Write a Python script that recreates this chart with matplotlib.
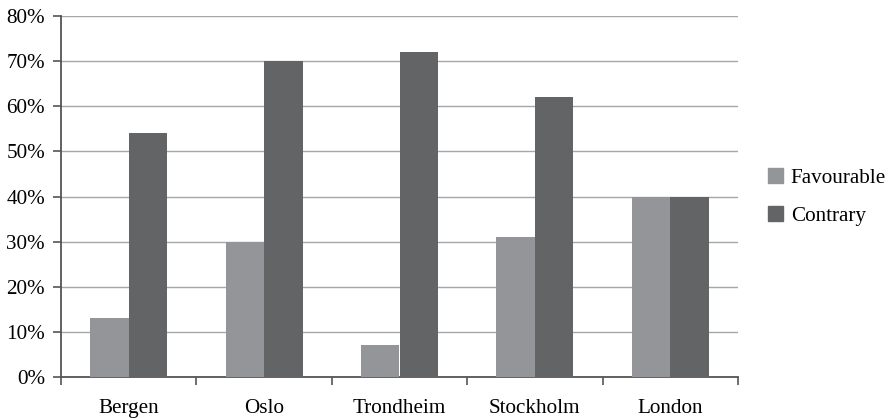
import matplotlib
matplotlib.use("Agg")
from matplotlib import pyplot as plt
from matplotlib.patches import Patch
import numpy as np

cities = ["Bergen", "Oslo", "Trondheim", "Stockholm", "London"]
favourable = [13, 30, 7, 31, 40]
contrary = [54, 70, 72, 62, 40]
yticks = [0, 10, 20, 30, 40, 50, 60, 70, 80]

plt.rcParams['font.family'] = ['Liberation Serif', 'DejaVu Serif']
c_fav = '#939598'
c_con = '#636466'
axis_c = '#555555'
fs = 15.2

fig = plt.figure(figsize=(8.91, 4.18), dpi=100)
ax = fig.add_axes([61/891, 1-377/418, (738-61)/891, (377-16)/418])

x = np.arange(len(cities))
w = 0.285
ax.bar(x - w/2, favourable, w, color=c_fav, zorder=3)
ax.bar(x + w/2, contrary, w, color=c_con, zorder=3)

ax.set_xlim(-0.5, len(cities) - 0.5)
ax.set_ylim(0, 80)
ax.set_yticks(yticks)
ax.set_yticklabels(["%d%%" % v for v in yticks], fontsize=fs)
ax.yaxis.grid(True, color='#a6a6a6', linewidth=1.0, zorder=0)

# category boundaries get the tick marks, names sit between them
ax.set_xticks(np.arange(-0.5, len(cities)), minor=False)
ax.set_xticklabels([])
ax.set_xticks(x, minor=True)
ax.set_xticklabels(cities, minor=True, fontsize=fs)
ax.tick_params(axis='x', which='major', direction='out', length=6, color=axis_c, width=1.2)
ax.tick_params(axis='x', which='minor', length=0, pad=16)
ax.tick_params(axis='y', direction='out', length=5.5, color=axis_c, width=1.2, pad=6)

for s in ['top', 'right']:
    ax.spines[s].set_visible(False)
for s in ['left', 'bottom']:
    ax.spines[s].set_color(axis_c)
    ax.spines[s].set_linewidth(1.3)

handles = [Patch(color=c_fav, label="Favourable"), Patch(color=c_con, label="Contrary")]
fig.legend(handles=handles, loc='center left', bbox_to_anchor=(768/891, 1-197/418),
           frameon=False, fontsize=fs, handlelength=0.7, handleheight=0.7,
           handletextpad=0.38, labelspacing=0.85, borderpad=0, borderaxespad=0)

fig.savefig("out.png", dpi=100)
